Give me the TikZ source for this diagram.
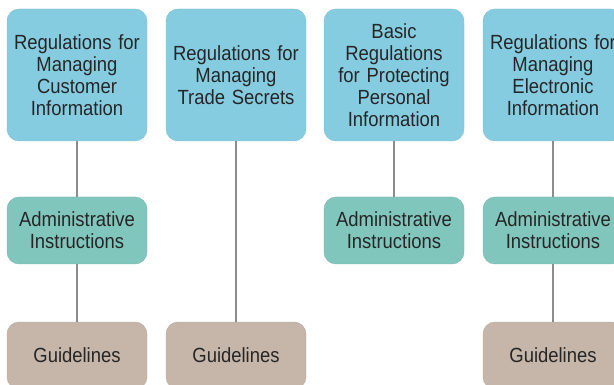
\documentclass[tikz,border=0pt]{standalone}
\usepackage{fontspec}
\setmainfont[FakeStretch=0.9]{Liberation Sans}

\definecolor{regblue}{RGB}{134,204,225}
\definecolor{adminteal}{RGB}{129,198,189}
\definecolor{guidetan}{RGB}{198,182,169}
\definecolor{txtgray}{RGB}{38,38,38}
\definecolor{linegray}{RGB}{140,140,140}

\begin{document}
\begin{tikzpicture}[x=1pt, y=-1pt,
  box/.style={rounded corners=12pt, minimum width=140pt, text width=134pt,
    align=center, inner sep=0pt, text=txtgray,
    font=\fontsize{20.5}{22}\selectfont},
  reg/.style={box, fill=regblue, draw=regblue!92!black, minimum height=132pt},
  admin/.style={box, fill=adminteal, draw=adminteal!92!black, minimum height=67pt},
  guide/.style={box, fill=guidetan, draw=guidetan!92!black, minimum height=67pt},
  link/.style={draw=linegray, line width=1.2pt}]
\useasboundingbox (0,0) rectangle (614,385);

  \node[reg] (regcust) at (77,75) {Regulations for\\Managing\\Customer\\Information};
  \node[reg] (regtrade) at (236,75) {Regulations for\\Managing\\Trade Secrets};
  \node[reg] (regpers) at (394,75) {Basic\\Regulations\\for Protecting\\Personal\\Information};
  \node[reg] (regelec) at (553,75) {Regulations for\\Managing\\Electronic\\Information};

  \node[admin] (admcust) at (77,230.5) {Administrative\\Instructions};
  \node[admin] (admpers) at (394,230.5) {Administrative\\Instructions};
  \node[admin] (admelec) at (553,230.5) {Administrative\\Instructions};

  \node[guide] (gdcust) at (77,355.5) {Guidelines};
  \node[guide] (gdtrade) at (236,355.5) {Guidelines};
  \node[guide] (gdelec) at (553,355.5) {Guidelines};

  \draw[link] (regcust) -- (admcust);
  \draw[link] (admcust) -- (gdcust);
  \draw[link] (regtrade) -- (gdtrade);
  \draw[link] (regpers) -- (admpers);
  \draw[link] (regelec) -- (admelec);
  \draw[link] (admelec) -- (gdelec);
\end{tikzpicture}
\end{document}
